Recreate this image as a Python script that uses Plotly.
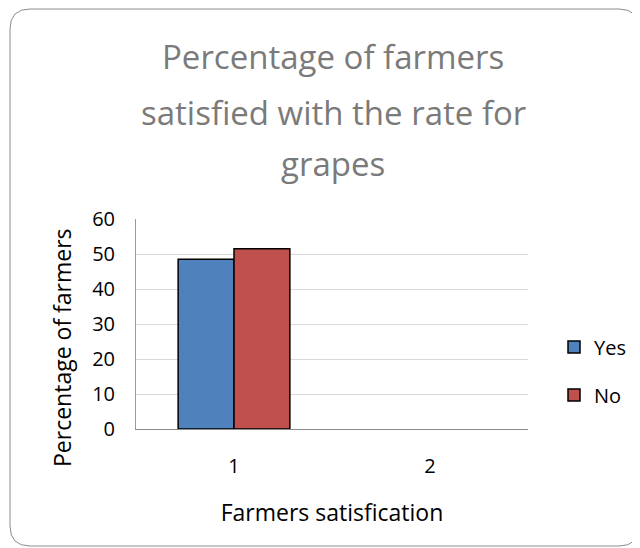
import plotly.graph_objects as go

categories = ["1", "2"]
yes_values = [48.5, None]
no_values = [51.5, None]
y_ticks = [0, 10, 20, 30, 40, 50, 60]
title_lines = ["Percentage of farmers", "satisfied with the rate for", "grapes"]

# page body has an 8px margin, so the figure is drawn at (8, 8)
W, H = 632, 540
L, R, T, B = 128, 112, 211, 119
pw, ph = W - L - R, H - T - B

def px2x(px):
    return (px - L) / pw

def py2y(py):
    return (H - B - py) / ph

fig = go.Figure()
fig.add_trace(go.Bar(name="Yes", x=categories, y=yes_values, legend="legend",
                     marker=dict(color="#4F81BD", line=dict(color="black", width=1.5))))
fig.add_trace(go.Bar(name="No", x=categories, y=no_values, legend="legend2",
                     marker=dict(color="#C0504D", line=dict(color="black", width=1.5))))

# rounded chart border
x0, x1, y0, y1, r = 2, 631, 1, 538, 20
path = (f"M {px2x(x0+r)} {py2y(y0)} L {px2x(x1-r)} {py2y(y0)} "
        f"Q {px2x(x1)} {py2y(y0)} {px2x(x1)} {py2y(y0+r)} "
        f"L {px2x(x1)} {py2y(y1-r)} Q {px2x(x1)} {py2y(y1)} {px2x(x1-r)} {py2y(y1)} "
        f"L {px2x(x0+r)} {py2y(y1)} Q {px2x(x0)} {py2y(y1)} {px2x(x0)} {py2y(y1-r)} "
        f"L {px2x(x0)} {py2y(y0+r)} Q {px2x(x0)} {py2y(y0)} {px2x(x0+r)} {py2y(y0)} Z")

title_centers = [48, 104, 155]
annotations = [dict(text=t, x=px2x(325), y=py2y(cy), xref="paper", yref="paper",
                    xanchor="center", yanchor="middle", showarrow=False,
                    font=dict(size=33, color="#7a7a7a"))
               for t, cy in zip(title_lines, title_centers)]
annotations.append(dict(text="Percentage of farmers", textangle=-90,
                        x=px2x(54), y=py2y(340), xref="paper", yref="paper",
                        xanchor="center", yanchor="middle", showarrow=False,
                        font=dict(size=23, color="black")))

legend_common = dict(xanchor="left", yanchor="middle", font=dict(size=20),
                     bgcolor="rgba(0,0,0,0)", itemwidth=30)

fig.update_layout(
    width=W, height=H,
    margin=dict(l=L, r=R, t=T, b=B, autoexpand=False),
    paper_bgcolor="white", plot_bgcolor="white",
    font=dict(family="Open Sans, Liberation Sans, sans-serif", color="black", size=20),
    barmode="group", bargap=0.43, bargroupgap=0,
    showlegend=True,
    legend=dict(x=px2x(546), y=py2y(339), **legend_common),
    legend2=dict(x=px2x(546), y=py2y(387), **legend_common),
    annotations=annotations,
    shapes=[dict(type="path", path=path, xref="paper", yref="paper",
                 line=dict(color="#8c8c8c", width=1), layer="below")],
)
fig.update_xaxes(showline=True, linecolor="#8a8a8a", linewidth=1, ticks="",
                 tickfont=dict(size=20), ticklabelstandoff=19,
                 title=dict(text="Farmers satisfication", font=dict(size=23), standoff=26))
fig.update_yaxes(range=[0, 60], tickvals=y_ticks, showline=True, linecolor="#9a9a9a",
                 linewidth=1, ticks="", gridcolor="#d9d9d9", gridwidth=1, zeroline=False,
                 tickfont=dict(size=20), ticklabelstandoff=16)

fig.write_html("out.html")
